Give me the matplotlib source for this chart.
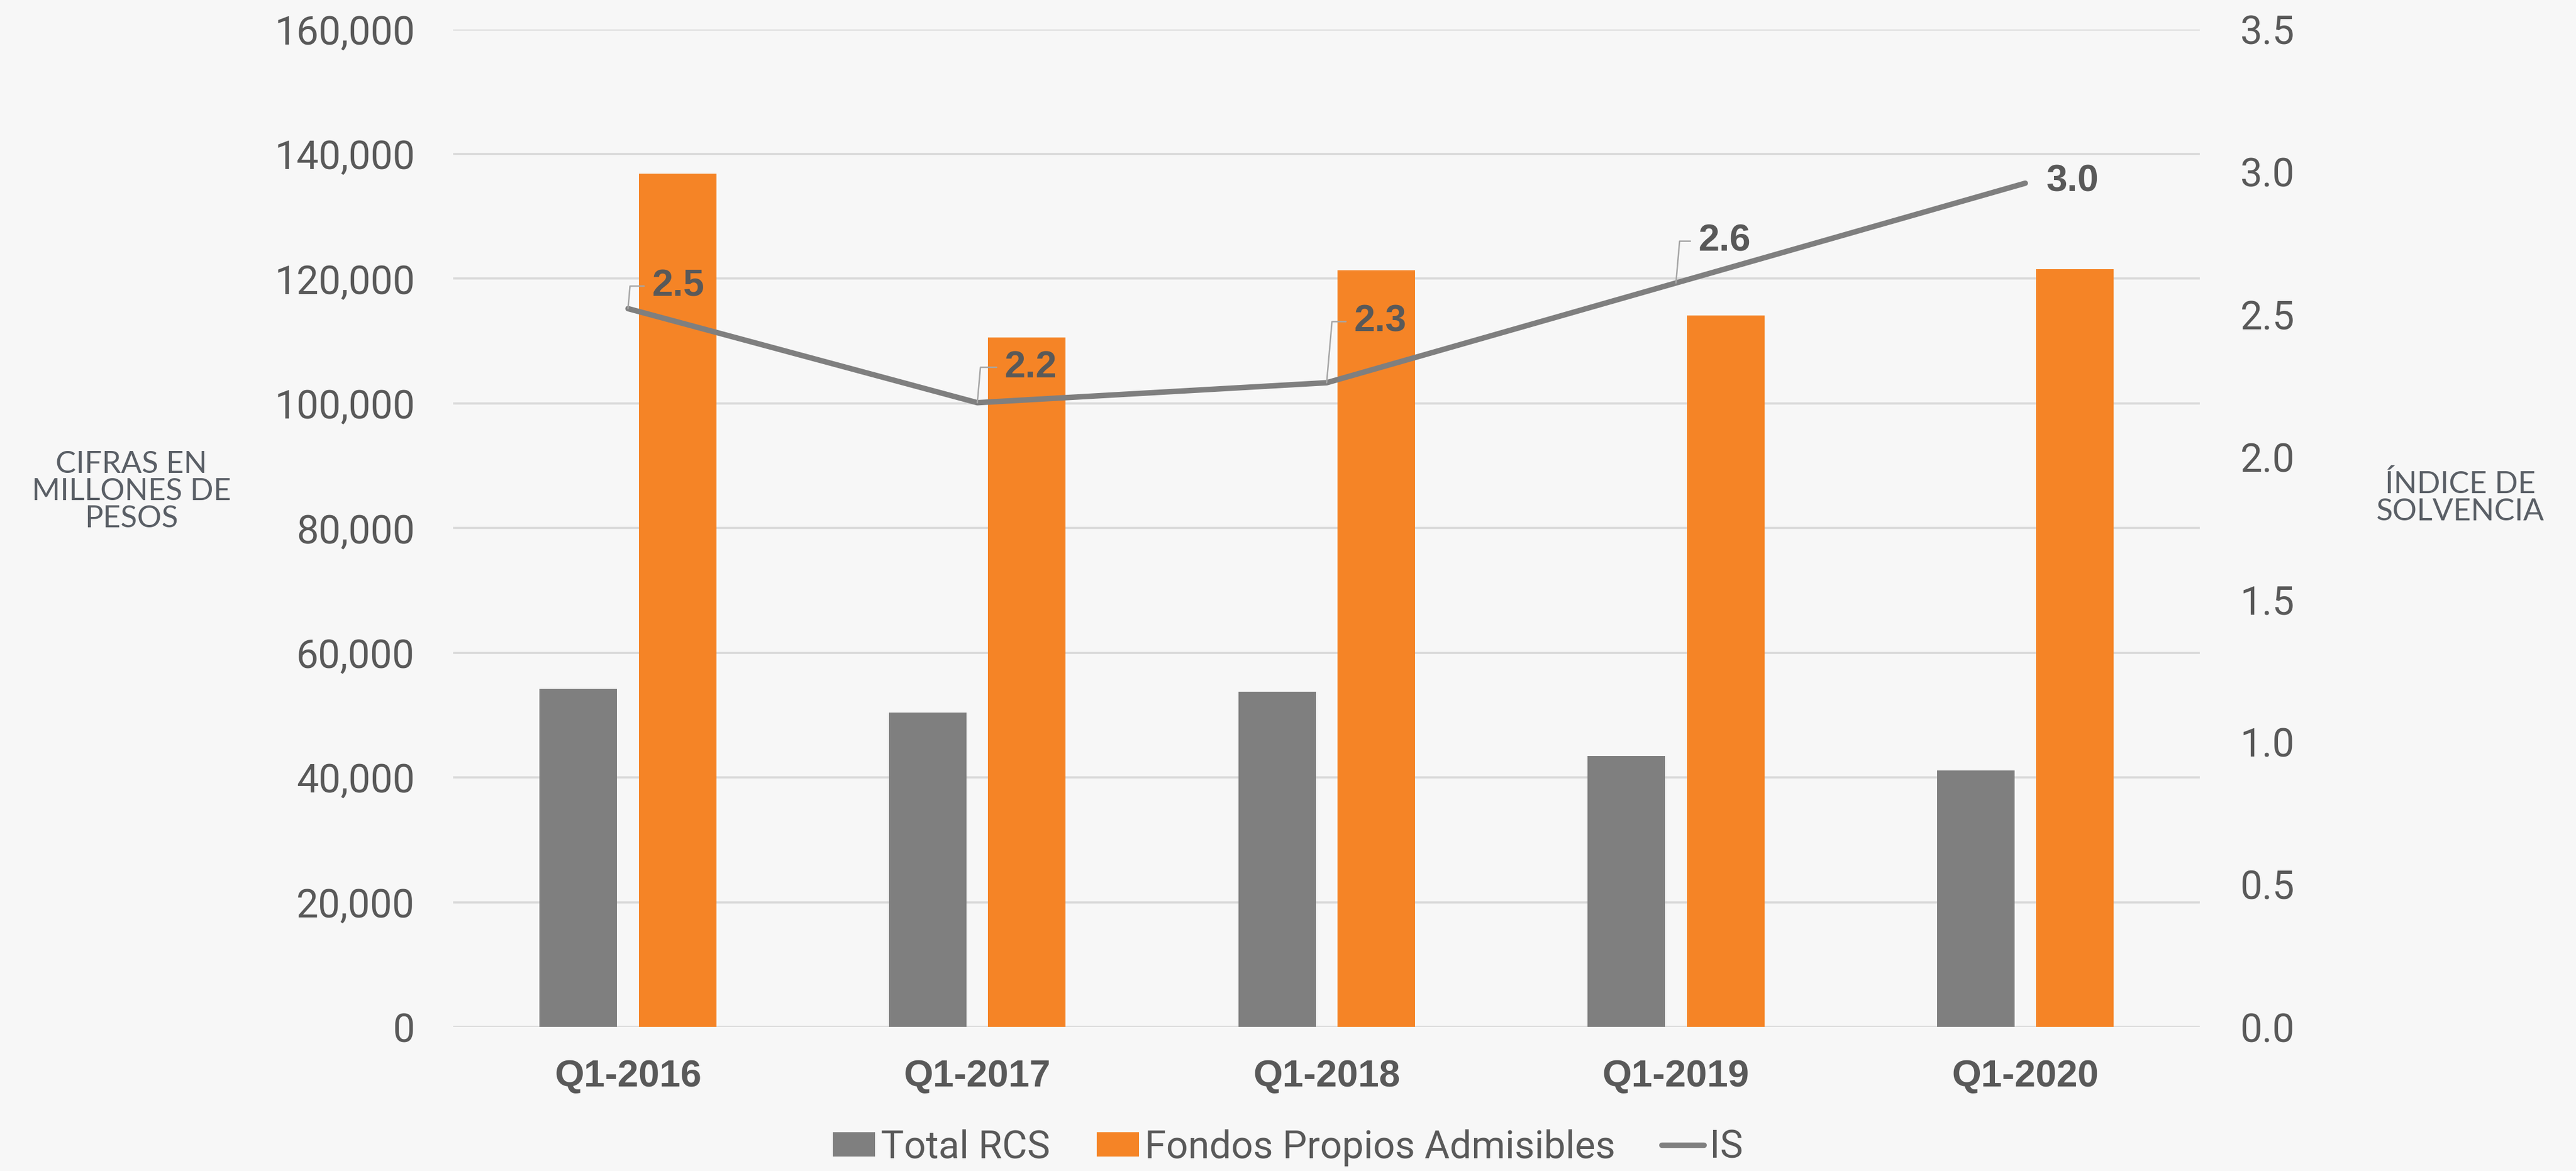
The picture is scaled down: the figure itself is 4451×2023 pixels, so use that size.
import matplotlib.pyplot as plt
import numpy as np

categories = ["Q1-2016", "Q1-2017", "Q1-2018", "Q1-2019", "Q1-2020"]
total_rcs = [54200, 50400, 53800, 43500, 41100]
fondos = [136800, 110600, 121300, 114100, 121500]
indice = [2.52, 2.19, 2.26, 2.61, 2.96]
indice_labels = ["2.5", "2.2", "2.3", "2.6", "3.0"]
left_ticks = [0, 20000, 40000, 60000, 80000, 100000, 120000, 140000, 160000]
right_ticks = [0.0, 0.5, 1.0, 1.5, 2.0, 2.5, 3.0, 3.5]

bg = "#f7f7f7"
txt = "#595959"
light = ["Roboto", "DejaVu Sans"]

fig = plt.figure(figsize=(22.255, 10.115), dpi=200, facecolor=bg)
ax = fig.add_axes([0.176, 0.123, 0.678, 0.852])
ax.set_facecolor(bg)
x = np.arange(len(categories))
w = 0.222
ax.bar(x - 0.142, total_rcs, w, color="#7f7f7f", label="Total RCS", zorder=2)
ax.bar(x + 0.142, fondos, w, color="#f58426", label="Fondos Propios Admisibles", zorder=2)
ax.set_xlim(-0.5, 4.5)
ax.set_ylim(0, 160000)
ax.set_yticks(left_ticks)
ax.set_yticklabels([f"{v:,}" for v in left_ticks], fontsize=24.5, color=txt, family=light)
ax.set_xticks(x)
ax.set_xticklabels(categories, fontsize=23.5, fontweight="bold", color=txt, family="Liberation Sans")
ax.tick_params(axis="y", length=0, pad=24)
ax.tick_params(axis="x", length=0, pad=20)
ax.grid(axis="y", color="#d9d9d9", lw=1.3, zorder=0)
for s in ax.spines.values():
    s.set_visible(False)

ax2 = ax.twinx()
ax2.plot(x, indice, color="#7f7f7f", lw=3.4, solid_capstyle="round", label="IS", zorder=3)
ax2.set_ylim(0, 3.5)
ax2.set_yticks(right_ticks)
ax2.set_yticklabels([f"{v:.1f}" for v in right_ticks], fontsize=24.5, color=txt, family=light)
ax2.tick_params(axis="y", length=0, pad=25)
for s in ax2.spines.values():
    s.set_visible(False)

offsets = [(15, 14), (17, 22), (17, 38), (14, 26), (13, 1)]
for i, (lab, off) in enumerate(zip(indice_labels, offsets)):
    arrow = None
    if i < 4:
        arrow = dict(arrowstyle="-", color="#a6a6a6", lw=0.9, shrinkA=3, shrinkB=0,
                     relpos=(0, 0.5), connectionstyle="angle,angleA=0,angleB=85,rad=0")
    ax2.annotate(lab, (x[i], indice[i]), xytext=off, textcoords="offset points",
                 ha="left", va="center", fontsize=23.5, fontweight="bold", color=txt,
                 family="Liberation Sans", arrowprops=arrow, zorder=4)

fig.text(0.051, 0.58, "CIFRAS EN\nMILLONES DE\nPESOS", ha="center", va="center",
         fontsize=19, color="#5a5f66", family="Lato", linespacing=1.0)
fig.text(0.955, 0.575, "ÍNDICE DE\nSOLVENCIA", ha="center", va="center",
         fontsize=19, color="#5a5f66", family="Lato", linespacing=1.0)

h1, l1 = ax.get_legend_handles_labels()
h2, l2 = ax2.get_legend_handles_labels()
fig.legend(h1 + h2, l1 + l2, loc="center", bbox_to_anchor=(0.5, 0.02), ncol=3,
           frameon=False, prop={"family": light, "size": 24}, labelcolor=txt,
           handlelength=1.1, handleheight=0.6, handletextpad=0.15, columnspacing=1.2)

fig.savefig("out.png", dpi=200, facecolor=bg)
